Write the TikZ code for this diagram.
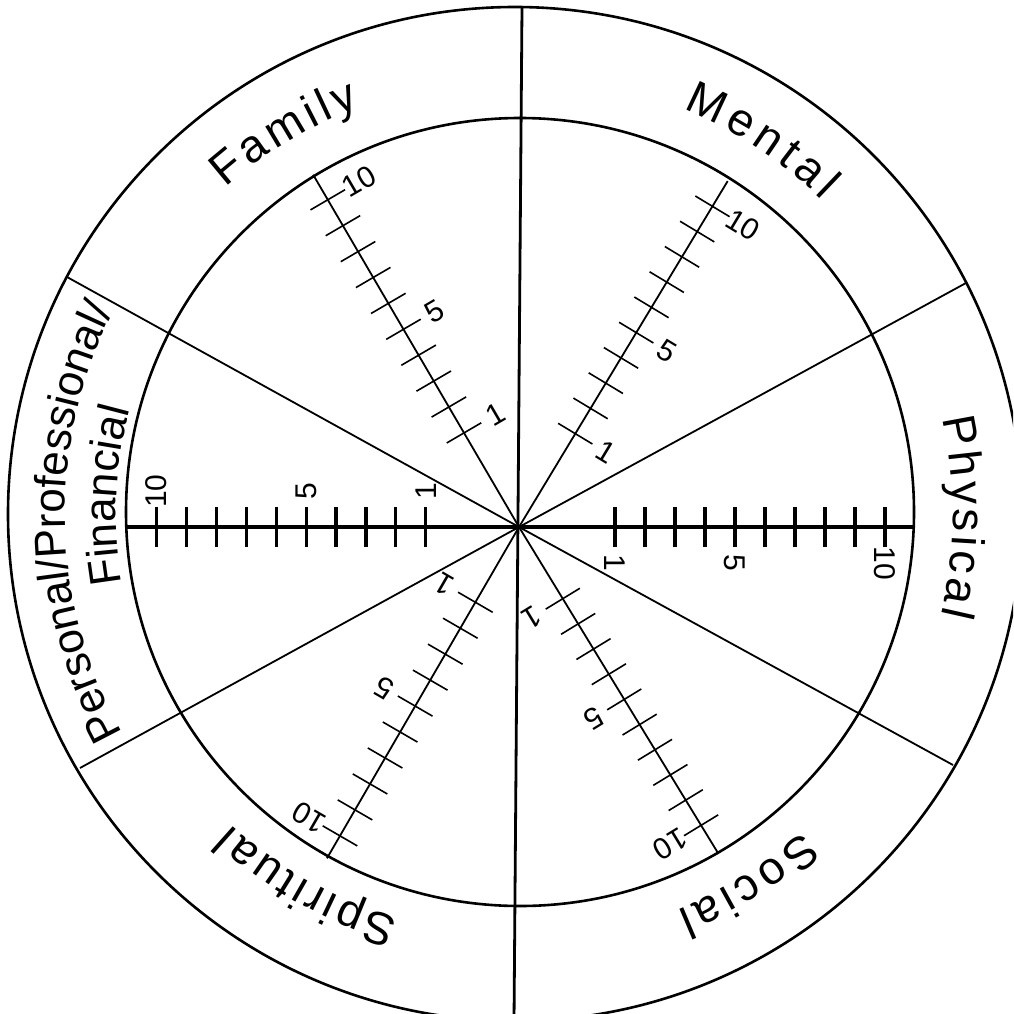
\documentclass[tikz,border=0pt]{standalone}
\usepackage{fontspec}
\newfontfamily\lblfont{Liberation Sans}
\newcommand\bigfont{\lblfont\fontsize{46}{55}\selectfont}
\newcommand\midfont{\lblfont\fontsize{44}{53}\selectfont}
\newcommand\numfont{\lblfont\fontsize{30}{36}\selectfont}
\newcommand\slsh{/}
\tikzset{
  circ/.style={line width=2.6pt},
  vline/.style={line width=2.8pt},
  divider/.style={line width=1.8pt},
  thinscale/.style={line width=1.8pt},
  thintick/.style={line width=1.6pt},
  thickscale/.style={line width=3.2pt},
  thicktick/.style={line width=3.2pt},
  numlabel/.style={font=\numfont, inner sep=0pt},
}
% arc text: #1 font, #2 font size, #3 centre angle, #4 baseline radius, #5 letter spacing, #6 letter/width(em) list
\newcommand\arctext[6]{%
  \gdef\atw{0}%
  \foreach \c/\cw in {#6}{%
    \pgfmathsetmacro\tmp{\atw+\cw*#2+#5}%
    \xdef\atw{\tmp}%
  }%
  \pgfmathsetmacro\tmp{-(\atw-#5)/2}%
  \xdef\ats{\tmp}%
  \foreach \c/\cw in {#6}{%
    \pgfmathsetmacro\lw{\cw*#2}%
    \pgfmathsetmacro\ang{#3-(\ats+\lw/2)/#4*180/pi}%
    \pgfmathsetmacro\rot{\ang-90}%
    \node[font=#1,inner sep=0pt,anchor=base,rotate=\rot] at ([shift={(\ang:#4)}]cc) {\c};
    \pgfmathsetmacro\tmp{\ats+\lw+#5}%
    \xdef\ats{\tmp}%
  }%
}
% scale: #1 angle, #2 line length, #3 first tick distance, #4 spacing, #5 line style, #6 tick style
\newcommand\wheelscale[6]{%
  \begin{scope}[shift={(hub)}, rotate=#1]
    \draw[#5] (0,0) -- (#2,0);
    \foreach \k in {1,...,10}{%
      \draw[#6] ({#3+(\k-1)*#4},-20) -- ({#3+(\k-1)*#4},20);
    }
    \pgfmathsetmacro\lrot{#1-90}%
    \foreach \k in {1,5,10}{%
      \node[numlabel, rotate=\lrot] at ({#3+(\k-1)*#4},-36) {\k};
    }
  \end{scope}%
}
\begin{document}
\begin{tikzpicture}[x=1pt,y=1pt]
\useasboundingbox (0,0) rectangle (1013,-1014);
\clip (0,0) rectangle (1013,-1014);
\coordinate (cc) at (515,-514);
\coordinate (ic) at (520,-512);
\coordinate (hub) at (519,-527);
\coordinate (vt) at (522,-7);
\coordinate (vb) at (514,-1021);
\coordinate (dur) at (966,-283);
\coordinate (dul) at (67,-277);
\coordinate (dll) at (80,-768);
\coordinate (dlr) at (953,-765);
% circles
\draw[circ] (cc) circle[radius=507];
\draw[circ] (ic) circle[radius=394];
% dividers
\draw[divider] (hub) -- (dur);
\draw[divider] (hub) -- (dul);
\draw[divider] (hub) -- (dll);
\draw[divider] (hub) -- (dlr);
\draw[vline] (vt) -- (vb);
% scales
\wheelscale{180}{392}{93.3}{29.9}{thickscale}{thicktick}
\wheelscale{0}{394}{96}{30}{thickscale}{thicktick}
\wheelscale{120.3}{408}{109}{30}{thinscale}{thintick}
\wheelscale{58.9}{404}{109}{29.5}{thinscale}{thintick}
\wheelscale{239.9}{383}{87}{30}{thinscale}{thintick}
\wheelscale{301.4}{383}{84}{29.5}{thinscale}{thintick}
% arc labels
\arctext{\bigfont}{46}{121.2}{436}{4.3}{F/0.611,a/0.556,m/0.833,i/0.222,l/0.222,y/0.5}
\arctext{\bigfont}{46}{56.5}{439}{5.8}{M/0.833,e/0.556,n/0.556,t/0.278,a/0.556,l/0.222}
\arctext{\bigfont}{46}{-0.4}{438}{3.8}{P/0.667,h/0.556,y/0.5,s/0.5,i/0.222,c/0.5,a/0.556,l/0.222}
\arctext{\bigfont}{46}{302.2}{428}{4.6}{S/0.667,o/0.556,c/0.5,i/0.222,a/0.556,l/0.222}
\arctext{\bigfont}{46}{240.8}{421}{3.4}{S/0.667,p/0.556,i/0.222,r/0.333,i/0.222,t/0.278,u/0.556,a/0.556,l/0.222}
\arctext{\midfont}{44}{181.2}{450}{0}{P/0.667,e/0.556,r/0.333,s/0.5,o/0.556,n/0.556,a/0.556,l/0.222,\slsh/0.278,P/0.667,r/0.333,o/0.556,f/0.278,e/0.556,s/0.5,s/0.5,i/0.222,o/0.556,n/0.556,a/0.556,l/0.222,\slsh/0.278}
\arctext{\midfont}{44}{177.4}{399}{0}{F/0.611,i/0.222,n/0.556,a/0.556,n/0.556,c/0.5,i/0.222,a/0.556,l/0.222}
\end{tikzpicture}
\end{document}
